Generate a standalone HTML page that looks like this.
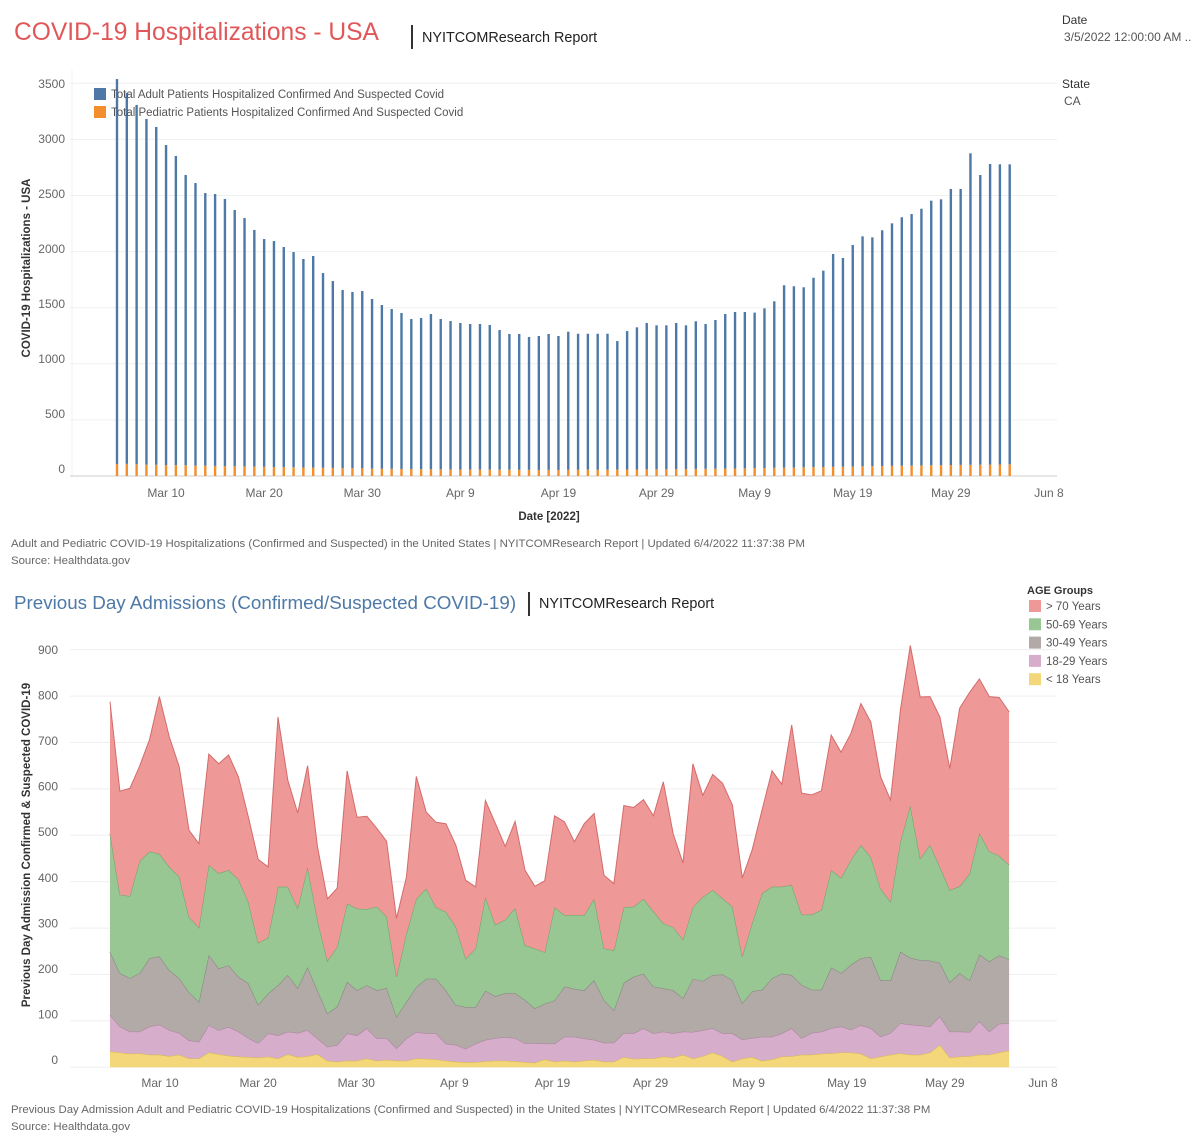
<!DOCTYPE html>
<html><head><meta charset="utf-8">
<style>
body{margin:0;background:#fff;font-family:"Liberation Sans",sans-serif;}
#root{position:relative;width:1200px;height:1145px;overflow:hidden;}
.t{position:absolute;white-space:nowrap;}
svg{position:absolute;left:0;top:0;}
</style></head><body>
<div id="root">
<div class="t" style="left:14px;top:19px;font-size:24.6px;color:#e15759;">COVID-19 Hospitalizations - USA</div>
<div class="t" style="left:411px;top:25px;width:2px;height:24px;background:#333;"></div>
<div class="t" style="left:422px;top:30px;font-size:14.4px;color:#222;">NYITCOMResearch Report</div>
<div class="t" style="left:1062px;top:13px;font-size:12px;color:#333;">Date</div>
<div class="t" style="left:1064px;top:30px;font-size:12px;color:#555;">3/5/2022 12:00:00 AM ..</div>
<div class="t" style="left:1062px;top:77px;font-size:12px;color:#333;">State</div>
<div class="t" style="left:1064px;top:94px;font-size:12px;color:#555;">CA</div>
<div class="t" style="left:11px;top:538px;font-size:11.4px;color:#666;">Adult and Pediatric COVID-19 Hospitalizations (Confirmed and Suspected) in the United States | NYITCOMResearch Report | Updated 6/4/2022 11:37:38 PM</div>
<div class="t" style="left:11px;top:555px;font-size:11.4px;color:#666;">Source: Healthdata.gov</div>
<div class="t" style="left:14px;top:592px;font-size:18.8px;color:#4e79a7;">Previous Day Admissions (Confirmed/Suspected COVID-19)</div>
<div class="t" style="left:528px;top:592px;width:2px;height:24px;background:#333;"></div>
<div class="t" style="left:539px;top:596px;font-size:14.4px;color:#222;">NYITCOMResearch Report</div>
<div class="t" style="left:11px;top:1104px;font-size:11.4px;color:#666;">Previous Day Admission Adult and Pediatric COVID-19 Hospitalizations (Confirmed and Suspected) in the United States | NYITCOMResearch Report | Updated 6/4/2022 11:37:38 PM</div>
<div class="t" style="left:11px;top:1121px;font-size:11.4px;color:#666;">Source: Healthdata.gov</div>
<svg id="chart" width="1200" height="1145"></svg>
</div>
<script>
const xTickLabels=["Mar 10","Mar 20","Mar 30","Apr 9","Apr 19","Apr 29","May 9","May 19","May 29","Jun 8"];
const xTickDays=[5,15,25,35,45,55,65,75,85,95];
const topYTicks=[0,500,1000,1500,2000,2500,3000,3500];
const adultValues=[3433,3306,3203,3080,3011,2852,2755,2588,2518,2430,2423,2381,2284,2214,2109,2030,2014,1962,1918,1858,1886,1736,1666,1588,1571,1581,1512,1459,1424,1390,1337,1347,1384,1339,1322,1306,1297,1298,1289,1245,1210,1211,1184,1194,1211,1194,1231,1213,1212,1213,1212,1146,1235,1267,1305,1283,1283,1303,1281,1316,1291,1325,1378,1395,1394,1386,1423,1484,1626,1615,1605,1688,1750,1897,1860,1974,2050,2039,2101,2162,2214,2242,2288,2358,2369,2460,2459,2776,2582,2679,2675,2674];
const pediatricValues=[105,108,104,102,100,98,97,95,93,92,90,88,87,85,84,82,80,79,78,76,75,73,72,70,69,68,66,65,64,63,62,61,60,60,59,58,58,57,57,56,56,55,55,54,55,54,55,55,56,55,56,57,57,58,59,60,60,61,62,63,64,65,66,67,68,70,71,73,74,76,77,79,80,82,83,85,86,88,89,90,92,93,94,96,97,98,99,100,101,102,103,104];
const botYTicks=[0,100,200,300,400,500,600,700,800,900];
const ageGroups=["> 70 Years","50-69 Years","30-49 Years","18-29 Years","< 18 Years"];
const under18=[34,32,29,30,27,27,24,27,19,19,32,28,25,23,22,21,23,19,28,22,24,28,14,12,14,14,19,14,16,14,14,19,18,17,14,12,11,11,13,14,14,13,11,10,17,12,14,12,14,16,12,12,22,18,19,19,23,21,27,19,24,32,24,12,19,22,14,17,23,24,27,27,29,30,32,32,29,19,23,27,30,27,27,32,48,21,23,24,27,27,32,36];
const age18to29=[79,56,48,47,61,65,56,47,39,36,59,52,62,54,41,31,50,50,49,52,56,34,30,36,59,55,65,48,47,27,48,57,55,56,37,36,29,40,46,49,51,50,41,42,34,39,52,54,48,43,41,41,52,55,65,54,54,52,50,57,56,52,49,61,41,41,52,49,50,60,36,47,48,54,56,49,62,65,43,47,65,65,63,56,62,56,54,52,72,50,62,59];
const age30to49=[136,115,115,126,147,147,129,118,104,86,151,133,133,118,118,83,86,108,122,97,136,104,72,83,111,97,93,104,108,68,79,97,118,118,115,86,90,79,106,90,95,97,93,75,86,93,108,103,104,129,92,70,108,122,118,101,93,93,72,115,106,115,127,115,78,101,101,126,129,115,115,93,90,131,115,140,144,154,122,113,154,144,141,142,115,106,126,111,144,151,147,138];
const age50to69=[255,169,177,241,230,221,223,219,162,160,194,205,205,210,176,133,120,212,190,172,215,151,113,129,169,176,164,180,154,86,147,190,194,154,169,169,104,126,202,154,158,183,118,129,111,201,154,159,162,175,111,129,163,151,161,162,140,136,126,154,181,183,164,158,101,147,208,197,187,194,151,162,172,210,205,226,244,215,197,170,237,328,219,249,207,199,187,230,262,237,215,203];
const over70=[284,223,232,205,241,339,280,237,187,181,239,236,248,221,183,180,153,366,230,205,219,158,134,126,286,197,200,169,162,126,122,264,165,183,190,176,169,133,208,219,158,187,162,134,154,197,201,158,197,184,158,144,219,214,214,206,305,201,165,309,219,249,248,219,169,158,180,250,221,345,262,258,257,291,271,273,305,291,241,219,284,345,348,320,323,262,384,391,332,334,341,330];

const NS="http://www.w3.org/2000/svg";
const svg=document.getElementById('chart');
function mk(tag,attrs,parent){const e=document.createElementNS(NS,tag);for(const k in attrs)e.setAttribute(k,attrs[k]);(parent||svg).appendChild(e);return e;}
function txt(s,attrs){const e=mk('text',attrs);e.textContent=s;return e;}

// ---- top chart ----
const topX=d=>117+d*9.81;
const topY=v=>476-v*0.1122;
const topLabelY=v=>473-v*0.11;
let ax=mk('line',{x1:72,x2:72,y1:70,y2:478,stroke:'#f0f0f0','stroke-width':1});


for(const t of topYTicks){
  const g=mk('line',{x1:70,x2:1057,y1:topY(t),y2:topY(t),stroke:t===0?'#ccc':'#efefef','stroke-width':1});
  
  
  const l=txt(String(t),{x:65,y:topLabelY(t),'text-anchor':'end','font-size':12,fill:'#666','font-family':'Liberation Sans'});
  
  
}
xTickDays.forEach((d,i)=>{
  const l=txt(xTickLabels[i],{x:topX(d),y:497,'text-anchor':'middle','font-size':12,fill:'#666','font-family':'Liberation Sans'});
  
  
});
adultValues.forEach((v,i)=>{
  const p=pediatricValues[i];
  const r1=mk('rect',{x:topX(i)-1.2,y:topY(p),width:2.4,height:topY(0)-topY(p),fill:'#f28e2b'});
  
  
  const r2=mk('rect',{x:topX(i)-1.2,y:topY(p+v),width:2.4,height:topY(p)-topY(p+v),fill:'#4e79a7'});
  
  
});
let a=txt('COVID-19 Hospitalizations - USA',{x:0,y:0,transform:'translate(30,268) rotate(-90)','text-anchor':'middle','font-size':11.5,'font-weight':'bold',fill:'#333','font-family':'Liberation Sans'});


a=txt('Date [2022]',{x:549,y:520,'text-anchor':'middle','font-size':11.5,'font-weight':'bold',fill:'#333','font-family':'Liberation Sans'});


[['#4e79a7','Total Adult Patients Hospitalized Confirmed And Suspected Covid',88],['#f28e2b','Total Pediatric Patients Hospitalized Confirmed And Suspected Covid',106]].forEach(([c,s,y])=>{
  const r=mk('rect',{x:94,y:y,width:12,height:12,fill:c});
  
  
  const t=txt(s,{x:111,y:y+10,'font-size':11.5,fill:'#555','font-family':'Liberation Sans'});
  
  
});

// ---- bottom chart ----
const botX=d=>110+d*9.88;
const botY=v=>1067.3-v*0.464;
const botLabelY=v=>1064-v*0.4556;
for(const t of botYTicks){
  const g=mk('line',{x1:70,x2:1057,y1:botY(t),y2:botY(t),stroke:'#efefef','stroke-width':1});
  
  
  const l=txt(String(t),{x:58,y:botLabelY(t),'text-anchor':'end','font-size':12,fill:'#666','font-family':'Liberation Sans'});
  
  
}
xTickDays.forEach((d,i)=>{
  const l=txt(xTickLabels[i],{x:topX(d)-6,y:1087,'text-anchor':'middle','font-size':12,fill:'#666','font-family':'Liberation Sans'});
  
  
});
const seriesList=[under18,age18to29,age30to49,age50to69,over70];
const fills=['#f3d77a','#d6aecb','#b1aaa7','#98c793','#ee9998'];
const strokes=['#d9b94a','#a88199','#888080','#6aa566','#d46a6a'];
const names=['area-under-18','area-18-29','area-30-49','area-50-69','area-over-70'];
let base=under18.map(()=>0);
seriesList.forEach((s,si)=>{
  const top=s.map((v,i)=>base[i]+v);
  let d='M'+top.map((v,i)=>botX(i).toFixed(1)+','+botY(v).toFixed(1)).join('L');
  for(let i=base.length-1;i>=0;i--)d+='L'+botX(i).toFixed(1)+','+botY(base[i]).toFixed(1);
  d+='Z';
  const p=mk('path',{d:d,fill:fills[si],stroke:'none'});
  
  
  const ln=mk('path',{d:'M'+top.map((v,i)=>botX(i).toFixed(1)+','+botY(v).toFixed(1)).join('L'),fill:'none',stroke:strokes[si],'stroke-width':1});
  
  
  base=top;
});
a=txt('Previous Day Admission Confirmed & Suspected COVID-19',{x:0,y:0,transform:'translate(30,845) rotate(-90)','text-anchor':'middle','font-size':11.5,'font-weight':'bold',fill:'#333','font-family':'Liberation Sans'});


a=txt('AGE Groups',{x:1027,y:594,'font-size':11,'font-weight':'bold',fill:'#333','font-family':'Liberation Sans'});


ageGroups.forEach((g,i)=>{
  const y=600+i*18.3;
  const r=mk('rect',{x:1029,y:y,width:12,height:12,fill:fills[4-i]});
  
  
  const t=txt(g,{x:1046,y:y+10,'font-size':11.5,fill:'#555','font-family':'Liberation Sans'});
  
  
});
</script>
</body></html>
